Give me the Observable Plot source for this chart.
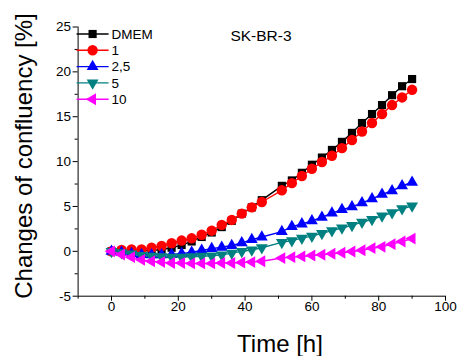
<!DOCTYPE html>
<html>
<head>
<meta charset="utf-8">
<script src="https://cdn.jsdelivr.net/npm/d3@7"></script>
<script src="https://cdn.jsdelivr.net/npm/@observablehq/plot@0.6"></script>
<style>
  body { margin: 0; background: #fff; }
  #chart { position: relative; width: 459px; height: 356px; }
</style>
</head>
<body>
<div id="chart"></div>
<script>
// Time points [h] (no measurement at 48 h)
const time = [0, 3, 6, 9, 12, 15, 18, 21, 24, 27, 30, 33, 36, 39, 42, 45,
  51, 54, 57, 60, 63, 66, 69, 72, 75, 78, 81, 84, 87, 90];

// Change of confluency [%] per treatment
const dmem = [0, 0.05, 0.0, 0.05, 0.1, 0.2, 0.4, 0.7, 1.1, 1.6, 2.1, 2.7, 3.4, 4.2, 4.9, 5.7,
  7.3, 7.9, 8.75, 9.65, 10.45, 11.3, 12.2, 13.2, 14.3, 15.3, 16.3, 17.4, 18.4, 19.2];
const conc1 = [0, 0.15, 0.2, 0.2, 0.4, 0.6, 0.9, 1.2, 1.45, 1.85, 2.3, 2.95, 3.5, 4.2, 4.9, 5.5,
  6.8, 7.6, 8.4, 9.2, 9.95, 10.65, 11.5, 12.4, 13.35, 14.3, 15.3, 16.3, 17.15, 18.0];
const conc2_5 = [0, -0.1, -0.25, -0.35, -0.4, -0.4, -0.35, -0.25, -0.1, 0.1, 0.3, 0.45, 0.65, 0.95, 1.3, 1.6,
  2.2, 2.75, 3.05, 3.4, 3.8, 4.25, 4.65, 4.95, 5.4, 5.85, 6.35, 6.75, 7.3, 7.7];
const conc5 = [0, -0.15, -0.3, -0.45, -0.55, -0.6, -0.65, -0.65, -0.6, -0.55, -0.5, -0.4, -0.2, 0.0, 0.15, 0.4,
  1.0, 1.2, 1.47, 1.7, 2.0, 2.3, 2.6, 2.9, 3.25, 3.55, 3.95, 4.3, 4.75, 5.05];
const conc10 = [0, -0.35, -0.65, -0.95, -1.1, -1.2, -1.3, -1.3, -1.35, -1.35, -1.35, -1.3, -1.3, -1.25, -1.2, -1.1,
  -0.75, -0.65, -0.57, -0.47, -0.38, -0.27, -0.16, -0.02, 0.12, 0.35, 0.5, 0.8, 1.1, 1.42];

const seriesNames = ["DMEM", "1", "2,5", "5", "10"];
const seriesValues = [dmem, conc1, conc2_5, conc5, conc10];
const seriesColors = ["#000000", "#ff0000", "#0000ff", "#008080", "#ff00ff"];
const seriesSymbols = ["square", "circle", "triangle", "triangle", "triangle"];
const seriesRotate = [0, 0, 0, 180, -90];
const seriesRadius = [4.6, 5.2, 4.4, 4.4, 4.4];

const xMajor = [0, 20, 40, 60, 80, 100];
const xMinor = [-10, 10, 30, 50, 70, 90];
const yMajor = [-5, 0, 5, 10, 15, 20, 25];
const yMinor = [-2.5, 2.5, 7.5, 12.5, 17.5, 22.5];

const font = "'Liberation Sans', Arial, sans-serif";

const series = seriesNames.map((name, k) => ({
  name,
  color: seriesColors[k],
  symbol: seriesSymbols[k],
  rotate: seriesRotate[k],
  r: seriesRadius[k],
  rows: time.map((t, i) => ({t, v: seriesValues[k][i]}))
}));

const marks = [];
for (const s of series) {
  marks.push(Plot.line(s.rows, {x: "t", y: "v", stroke: s.color, strokeWidth: 1.4}));
  marks.push(Plot.dot(s.rows, {x: "t", y: "v", symbol: () => s.symbol, r: s.r, fill: s.color,
    stroke: "none", rotate: s.rotate}));
}

const plot = Plot.plot({
  width: 459,
  height: 356,
  marginLeft: 77.6,
  marginRight: 14,
  marginTop: 26.5,
  marginBottom: 60.3,
  style: {fontFamily: font, color: "#000", background: "#fff", overflow: "visible"},
  x: {domain: [-10, 100]},
  y: {domain: [-5, 25]},
  marks: [
    ...marks,
    Plot.ruleX([-10], {stroke: "#000", strokeWidth: 1}),
    Plot.ruleY([-5], {stroke: "#000", strokeWidth: 1}),
    Plot.axisX(xMajor, {tickSize: 5, text: null, label: null, strokeWidth: 1}),
    Plot.axisX(xMinor, {tickSize: 3, text: null, label: null, strokeWidth: 1}),
    Plot.axisX(xMajor, {tickSize: 0, tickPadding: 5, fontSize: 13.5, label: null, tickFormat: d => String(d)}),
    Plot.axisY(yMajor, {tickSize: 5, text: null, label: null, strokeWidth: 1}),
    Plot.axisY(yMinor, {tickSize: 3, text: null, label: null, strokeWidth: 1}),
    Plot.axisY(yMajor, {tickSize: 0, tickPadding: 7, fontSize: 13.5, label: null, tickFormat: d => String(d)})
  ]
});

document.getElementById("chart").appendChild(plot);

// Axis titles, cell-line name and legend drawn onto the same SVG
const svg = d3.select(plot);
const xs = plot.scale("x");
const frameLeft = xs.range[0];

svg.append("text")
  .attr("x", 280).attr("y", 352)
  .attr("text-anchor", "middle")
  .style("font", `24px ${font}`).attr("fill", "#000")
  .text("Time [h]");

svg.append("text")
  .attr("transform", "translate(31.5,156) rotate(-90)")
  .attr("text-anchor", "middle")
  .style("font", `24px ${font}`).attr("fill", "#000")
  .text("Changes of confluency [%]");

svg.append("text")
  .attr("x", 261).attr("y", 40.5)
  .attr("text-anchor", "middle")
  .style("font", `15.5px ${font}`).attr("fill", "#000")
  .text("SK-BR-3");

const symbolTypes = {square: d3.symbolSquare, circle: d3.symbolCircle, triangle: d3.symbolTriangle};
const legend = svg.append("g").attr("text-anchor", "start");
series.forEach((s, k) => {
  const y = 34 + k * 16.3;
  const g = legend.append("g");
  g.append("line")
    .attr("x1", frameLeft - 1).attr("x2", frameLeft + 31)
    .attr("y1", y).attr("y2", y)
    .attr("stroke", s.color).attr("stroke-width", 1.4);
  g.append("path")
    .attr("d", d3.symbol(symbolTypes[s.symbol], Math.PI * s.r * s.r)())
    .attr("transform", `translate(${frameLeft + 15},${y}) rotate(${s.rotate})`)
    .attr("fill", s.color);
  g.append("text")
    .attr("x", frameLeft + 34).attr("y", y + 4.7)
    .attr("text-anchor", "start")
    .style("font", `13.5px ${font}`).attr("fill", "#000")
    .text(s.name);
});
</script>
</body>
</html>
